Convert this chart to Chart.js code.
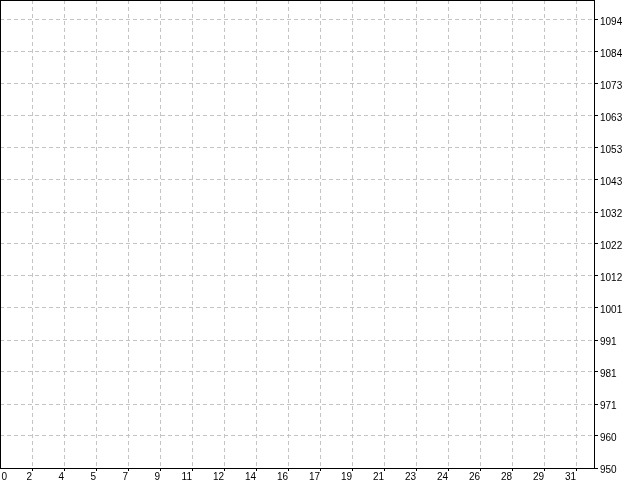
<!DOCTYPE html>
<html>
<head>
<meta charset="utf-8">
<style>
  html, body { margin: 0; padding: 0; background: #fff; }
  canvas { display: block; }
</style>
</head>
<body>
<canvas id="priceChart" width="640" height="480"></canvas>

<script src="https://cdn.jsdelivr.net/npm/chart.js"></script>
<script>
    // empty chart: no bars loaded yet, only the axes
    const prices = [];
    const xLabels = [0, 2, 4, 5, 7, 9, 11, 12, 14, 16, 17, 19, 21, 23, 24, 26, 28, 29, 31];
    const yLabels = [950, 960, 971, 981, 991, 1001, 1012, 1022, 1032, 1043, 1053, 1063, 1073, 1084, 1094];

    const yMin = 950, yTop = 1094;
    const yStep = (yTop - yMin) / (yLabels.length - 1);

    const frame = {
        id: "frame",
        afterDraw(chart) {
            const a = chart.chartArea;
            const ctx = chart.ctx;
            ctx.save();
            ctx.strokeStyle = "#000";
            ctx.lineWidth = 1;
            ctx.strokeRect(Math.round(a.left) + 0.5, Math.round(a.top) + 0.5,
                Math.round(a.right - a.left) - 1, Math.round(a.bottom - a.top));
            ctx.restore();
        }
    };

    const font = { family: "Liberation Sans", size: 10 };

    new Chart(document.getElementById("priceChart"), {
        type: "line",
        data: { datasets: [{ data: prices, borderColor: "#000" }] },
        options: {
            responsive: false,
            animation: false,
            layout: { padding: 0 },
            plugins: { legend: { display: false }, tooltip: { enabled: false } },
            scales: {
                x: {
                    type: "linear",
                    min: 0,
                    max: 595 / 32,
                    afterBuildTicks: axis => {
                        axis.ticks = xLabels.map((l, i) => ({ value: i === 0 ? 0.22 : i }));
                    },
                    afterFit: axis => {
                        axis.height = 12;
                        axis.paddingLeft = 0;
                        axis.paddingRight = 0;
                    },
                    border: { display: false, dash: [4, 3] },
                    grid: {
                        color: c => c.index === 0 ? "transparent" : "#c4c4c4",
                        tickColor: c => c.index === 0 ? "transparent" : "#000",
                        tickLength: 3,
                        tickBorderDash: []
                    },
                    ticks: {
                        autoSkip: false,
                        maxRotation: 0,
                        align: "end",
                        padding: 0,
                        color: "#000",
                        font: font,
                        callback: (v, i) => xLabels[i]
                    }
                },
                y: {
                    type: "linear",
                    position: "right",
                    min: yMin,
                    max: yTop + yStep * 20 / 32,
                    afterBuildTicks: axis => {
                        axis.ticks = yLabels.map((l, i) => ({ value: yMin + i * yStep }));
                    },
                    afterFit: axis => {
                        axis.width = 45;
                        axis.paddingTop = 0;
                        axis.paddingBottom = 0;
                    },
                    border: { display: false, dash: [4, 3] },
                    grid: {
                        color: "#c4c4c4",
                        tickColor: "#000",
                        tickLength: 3,
                        tickBorderDash: []
                    },
                    ticks: {
                        autoSkip: false,
                        padding: 2,
                        labelOffset: 2,
                        color: "#000",
                        font: font,
                        callback: (v, i) => yLabels[i]
                    }
                }
            }
        },
        plugins: [frame]
    });
</script>
</body>
</html>
